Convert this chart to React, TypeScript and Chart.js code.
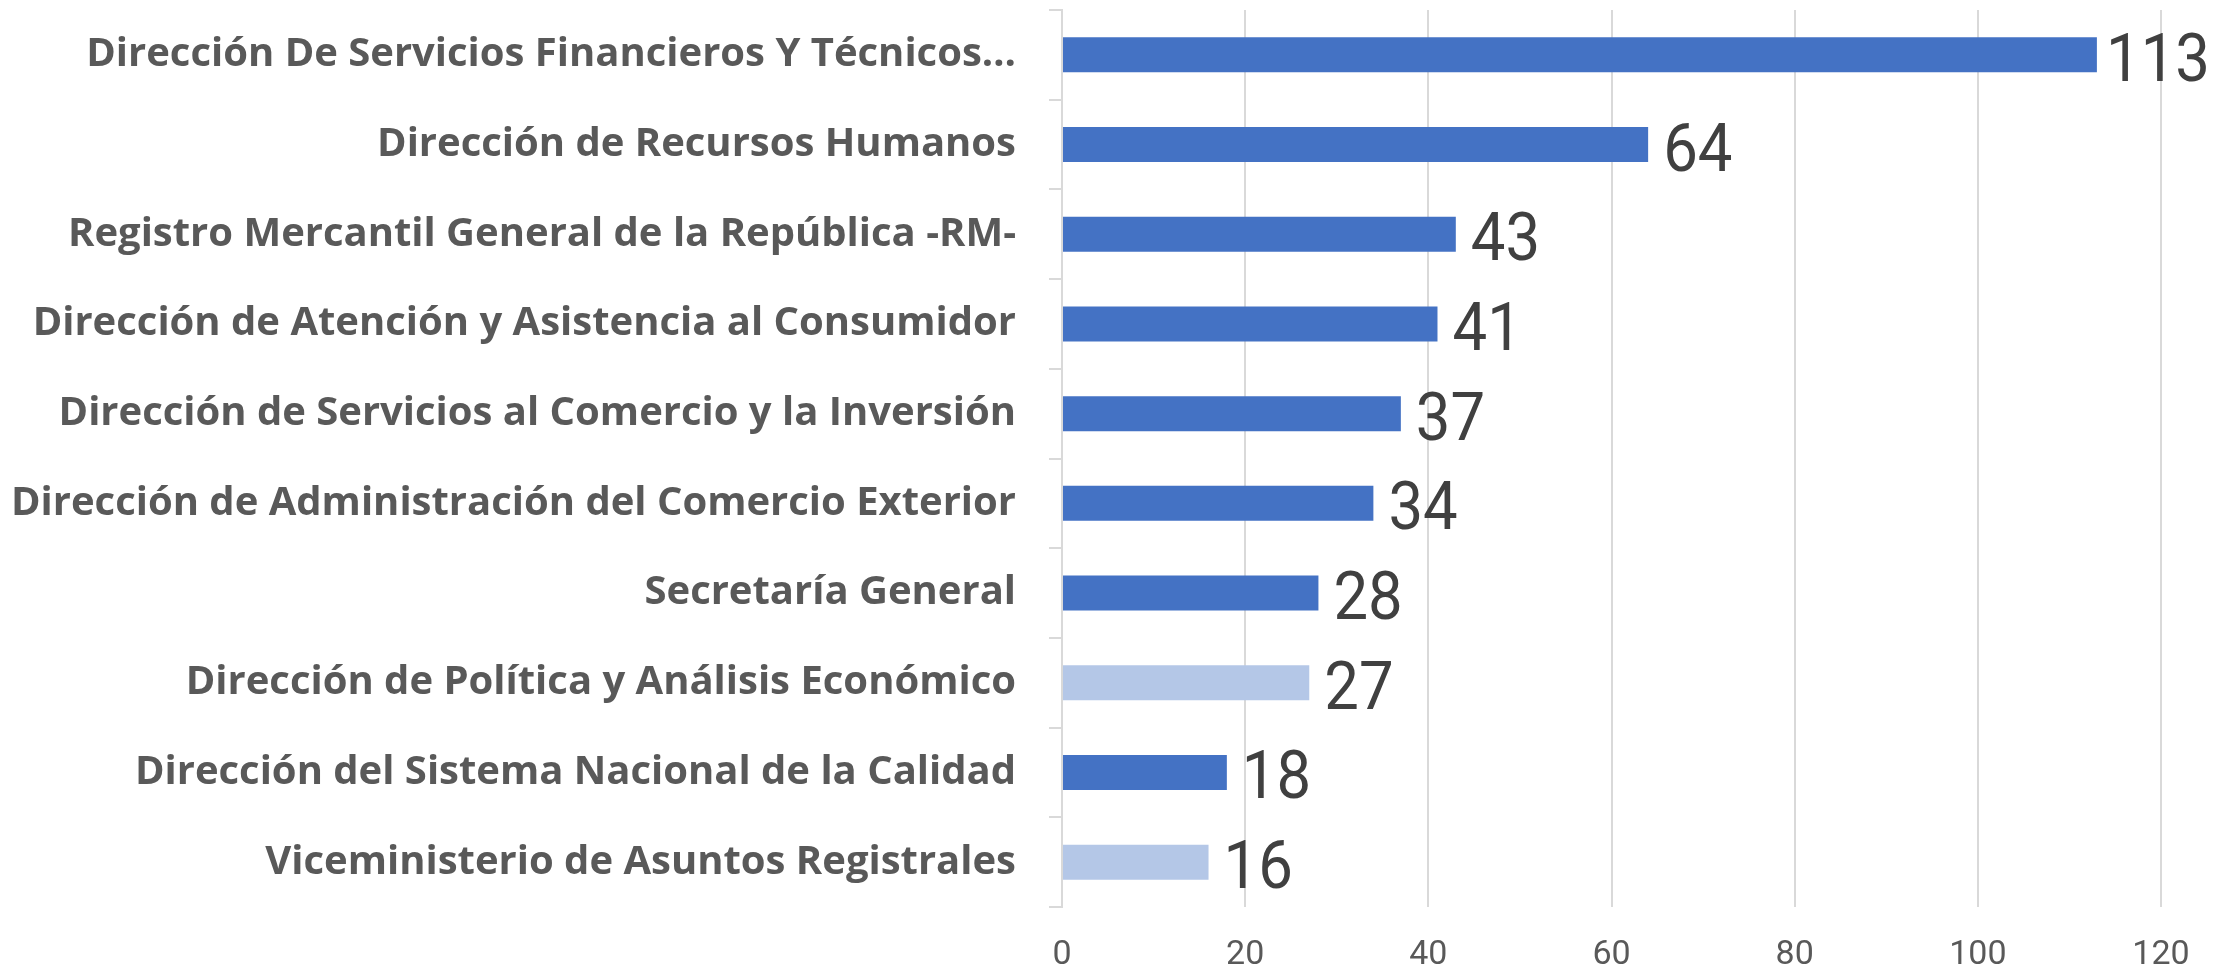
import React, { useEffect, useRef } from 'react';
import { Chart, registerables } from 'chart.js';

Chart.register(...registerables);

const categories = [
  'Dirección De Servicios Financieros Y Técnicos…',
  'Dirección de Recursos Humanos',
  'Registro Mercantil General de la República -RM-',
  'Dirección de Atención y Asistencia al Consumidor',
  'Dirección de Servicios al Comercio y la Inversión',
  'Dirección de Administración del Comercio Exterior',
  'Secretaría General',
  'Dirección de Política y Análisis Económico',
  'Dirección del Sistema Nacional de la Calidad',
  'Viceministerio de Asuntos Registrales',
];

const values = [113, 64, 43, 41, 37, 34, 28, 27, 18, 16];

const xTickValues = [0, 20, 40, 60, 80, 100, 120];

// which categories are shown in the lighter shade
const highlighted = [false, false, false, false, false, false, false, true, false, true];

const DARK = '#4472C4';
const LIGHT = '#B4C7E7';

const valueLabels = {
  id: 'valueLabels',
  afterDatasetsDraw(chart: any) {
    const ctx = chart.ctx;
    const meta = chart.getDatasetMeta(0);
    const ds = chart.data.datasets[0];
    const sx = 0.92;
    ctx.save();
    ctx.font = '400 67px Roboto';
    ctx.fillStyle = '#404040';
    ctx.textBaseline = 'alphabetic';
    ctx.textAlign = 'left';
    meta.data.forEach((bar: any, i: number) => {
      const text = String(ds.data[i]);
      const w = ctx.measureText(text).width * sx;
      let x = bar.x + 15;
      const maxRight = chart.width - 8;
      if (x + w > maxRight) x = maxRight - w;
      const y = bar.y + 26;
      ctx.save();
      ctx.translate(x, y);
      ctx.scale(sx, 1);
      ctx.fillText(text, 0, 0);
      ctx.restore();
    });
    ctx.restore();
  },
};

export default function App() {
  const ref = useRef<HTMLCanvasElement | null>(null);

  useEffect(() => {
    if (!ref.current) return;
    const chart = new Chart(ref.current, {
      type: 'bar',
      data: {
        labels: categories,
        datasets: [
          {
            data: values,
            backgroundColor: highlighted.map((h) => (h ? LIGHT : DARK)),
            borderWidth: 0,
            categoryPercentage: 1,
            barPercentage: 0.39,
          },
        ],
      },
      options: {
        indexAxis: 'y',
        animation: false,
        responsive: true,
        maintainAspectRatio: false,
        layout: { padding: { left: 0, right: 57, top: 10, bottom: 0 } },
        plugins: {
          legend: { display: false },
          tooltip: { enabled: false },
        },
        scales: {
          x: {
            min: 0,
            max: 120,
            afterBuildTicks: (scale: any) => {
              scale.ticks = xTickValues.map((v) => ({ value: v }));
            },
            afterFit: (scale: any) => {
              scale.height = 66;
              scale.paddingLeft = 0;
              scale.paddingRight = 0;
            },
            grid: {
              color: '#d9d9d9',
              lineWidth: 2,
              drawTicks: false,
            },
            border: { display: false },
            ticks: {
              font: { family: 'Roboto', size: 34 },
              color: '#595959',
              padding: 28,
            },
          },
          y: {
            afterFit: (scale: any) => {
              scale.width = 1062;
              scale.paddingTop = 0;
              scale.paddingBottom = 0;
            },
            grid: {
              drawOnChartArea: false,
              color: '#d9d9d9',
              lineWidth: 2,
              tickLength: 13,
              offset: true,
            },
            border: { display: true, color: '#d9d9d9', width: 2 },
            ticks: {
              autoSkip: false,
              font: { family: "'Open Sans'", size: 40, weight: 'bold' },
              color: '#595959',
              padding: 33,
            },
          },
        },
      },
      plugins: [valueLabels],
    });
    return () => chart.destroy();
  }, []);

  return (
    <div
      style={{
        position: 'fixed',
        left: 0,
        top: 0,
        width: 2218,
        height: 973,
        background: '#ffffff',
      }}
    >
      <canvas ref={ref} />
    </div>
  );
}
